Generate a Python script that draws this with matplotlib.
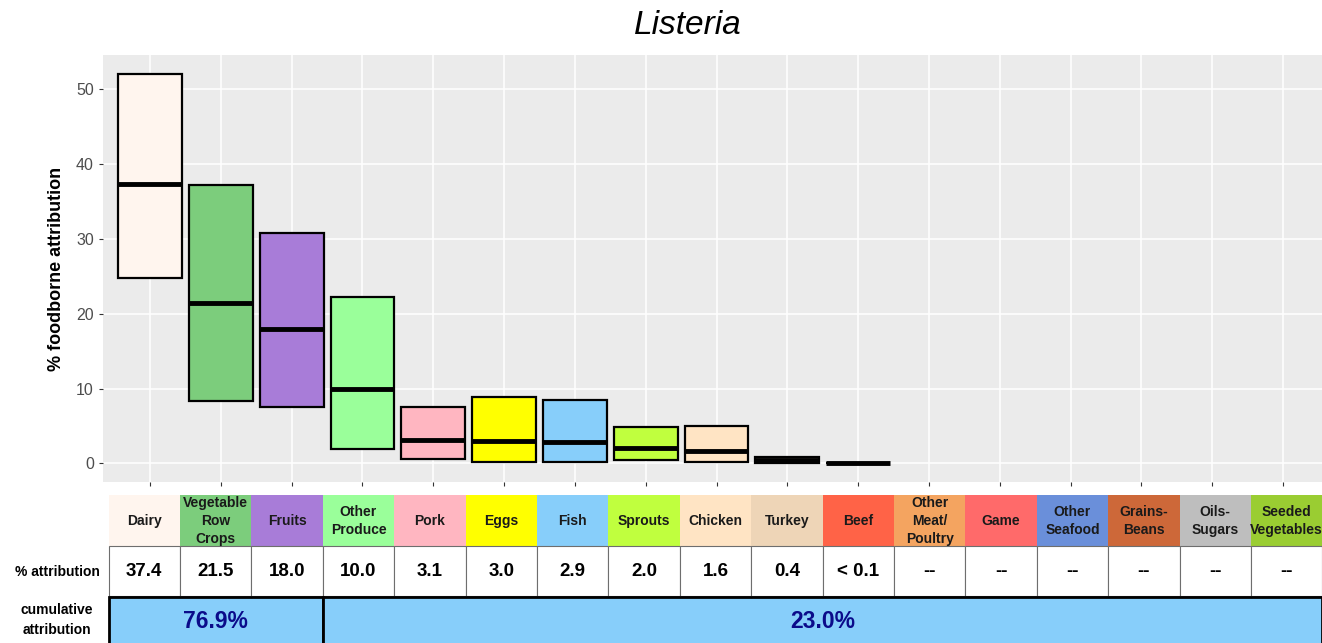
import matplotlib.pyplot as plt
from matplotlib.patches import Rectangle

plt.rcParams['font.family'] = ['Liberation Sans', 'DejaVu Sans']

# data
categories = ["Dairy", "Vegetable\nRow\nCrops", "Fruits", "Other\nProduce", "Pork", "Eggs",
              "Fish", "Sprouts", "Chicken", "Turkey", "Beef", "Other\nMeat/\nPoultry", "Game",
              "Other\nSeafood", "Grains-\nBeans", "Oils-\nSugars", "Seeded\nVegetables"]
colors = ["#FFF5EE", "#7CCD7C", "#A87CD8", "#9AFF9A", "#FFB6C1", "#FFFF00", "#87CEFA",
          "#C0FF3E", "#FFE4C4", "#EED5B7", "#FF6347", "#F4A460", "#FF6A6A", "#6A8FDA",
          "#CD6839", "#BEBEBE", "#9ACD32"]
lower = [24.8, 8.3, 7.5, 1.95, 0.55, 0.17, 0.17, 0.45, 0.13, 0.08, 0.0]
median = [37.4, 21.5, 18.0, 10.0, 3.1, 3.0, 2.9, 2.0, 1.6, 0.4, 0.05]
upper = [52.0, 37.2, 30.8, 22.3, 7.5, 8.9, 8.4, 4.9, 5.0, 0.9, 0.1]
pct_labels = ["37.4", "21.5", "18.0", "10.0", "3.1", "3.0", "2.9", "2.0", "1.6", "0.4",
              "< 0.1", "--", "--", "--", "--", "--", "--"]
cum_labels = ["76.9%", "23.0%"]
cum_spans = [3, 14]

W, H = 1322, 643
fig = plt.figure(figsize=(W / 100, H / 100), dpi=100)

# main crossbar panel
ax = fig.add_axes([103 / W, 1 - 482 / H, (W - 103) / W, (482 - 55) / H])
ax.set_facecolor("#EBEBEB")
n = len(median)
for i in range(n):
    ax.bar(i, upper[i] - lower[i], bottom=lower[i], width=0.9, color=colors[i],
           edgecolor="black", linewidth=1.6, zorder=3)
    ax.hlines(median[i], i - 0.45, i + 0.45, color="black", linewidth=3.5, zorder=4)

ax.set_xlim(-0.664, 16.55)
ax.set_ylim(-2.5, 54.6)
ax.set_xticks(range(len(categories)))
ax.set_xticklabels([])
ax.set_yticks([0, 10, 20, 30, 40, 50])
ax.grid(True, color="white", linewidth=1.1, zorder=0)
ax.set_axisbelow(True)
for s in ax.spines.values():
    s.set_visible(False)
ax.tick_params(axis="both", colors="#333333", length=3, width=0.8, labelcolor="#4D4D4D",
               labelsize=11.5)
ax.set_ylabel("% foodborne attribution", fontsize=13, fontweight="bold", labelpad=8)
fig.text(688 / W, 1 - 25 / H, "Listeria", fontsize=24, style="italic", ha="center", va="center")

# table below
tab = fig.add_axes([0, 0, 1, 1])
tab.set_xlim(0, W)
tab.set_ylim(H, 0)
tab.axis("off")

x0, cw = 108.6, 71.4
for i, name in enumerate(categories):
    xl = x0 + i * cw
    cell = Rectangle((xl, 495), cw, 51, facecolor=colors[i], edgecolor="none")
    tab.add_patch(cell)
    t = tab.text(xl + cw / 2, 521, name, ha="center", va="center", fontsize=10,
                 fontweight="bold", color="#1A1A1A", linespacing=1.35)
    t.set_clip_path(cell)
    tab.add_patch(Rectangle((xl, 546), cw, 50, facecolor="white", edgecolor="#6E6E6E",
                            linewidth=0.8))
    tab.text(xl + cw / 2, 572, pct_labels[i], ha="center", va="center", fontsize=13.5,
             fontweight="bold", color="black")

tab.text(57, 571.5, "% attribution", ha="center", va="center", fontsize=10, fontweight="bold")
tab.text(57, 620, "cumulative\nattribution", ha="center", va="center", fontsize=10,
         fontweight="bold", linespacing=1.5)

start = 0
for lab, span in zip(cum_labels, cum_spans):
    xl = x0 + start * cw
    tab.add_patch(Rectangle((xl, 597), span * cw, 60, facecolor="#87CEFA",
                            edgecolor="black", linewidth=2, clip_on=False))
    tab.text(xl + span * cw / 2, 622, lab, ha="center", va="center", fontsize=16.5,
             fontweight="bold", color="#0B0B8A")
    start += span

fig.savefig("out.png", dpi=100)
